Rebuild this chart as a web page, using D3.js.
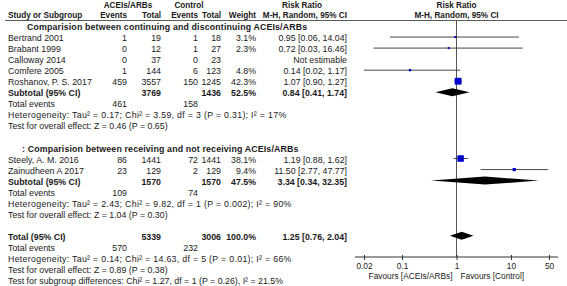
<!DOCTYPE html>
<html lang="en">
<head>
<meta charset="utf-8">
<title>Forest plot</title>
<script src="https://cdn.jsdelivr.net/npm/d3@7"></script>
<style>
  body { margin: 0; background: #fff; }
  svg text { font-family: "Liberation Sans", Arial, sans-serif; font-size: 8.8px; fill: #1a1a1a; }
  .b { font-weight: bold; }
  .hd { font-size: 8.2px; }
  .het { letter-spacing: 0.3px; }
  .grp { letter-spacing: 0.15px; }
</style>
</head>
<body>
<script>
// ---- data ----
var studies1 = ["Bertrand 2001", "Brabant 1999", "Calloway 2014", "Comfere 2005", "Roshanov, P. S. 2017"];
var aceEv1 = [1, 0, 0, 1, 459];
var aceN1 = [19, 12, 37, 144, 3557];
var ctlEv1 = [1, 1, 0, 6, 150];
var ctlN1 = [18, 27, 23, 123, 1245];
var weight1 = [3.1, 2.3, null, 4.8, 42.3];
var rr1 = [0.95, 0.72, null, 0.14, 1.07];
var lo1 = [0.06, 0.03, null, 0.02, 0.90];
var hi1 = [14.04, 16.46, null, 1.17, 1.27];

var studies2 = ["Steely, A. M. 2016", "Zainudheen A 2017"];
var aceEv2 = [86, 23];
var aceN2 = [1441, 129];
var ctlEv2 = [72, 2];
var ctlN2 = [1441, 129];
var weight2 = [38.1, 9.4];
var rr2 = [1.19, 11.50];
var lo2 = [0.88, 2.77];
var hi2 = [1.62, 47.77];

var subgroups = ["Comparision between continuing and discontinuing ACEIs/ARBs",
                 ": Comparision between receiving and not receiving ACEIs/ARBs"];
var subN = [[3769, 1436], [1570, 1570]];
var subWeight = [52.5, 47.5];
var subRR = [[0.84, 0.41, 1.74], [3.34, 0.34, 32.35]];
var subEvents = [[461, 158], [109, 74]];
var subHet = ["Heterogeneity: Tau\u00b2 = 0.17; Chi\u00b2 = 3.59, df = 3 (P = 0.31); I\u00b2 = 17%",
              "Heterogeneity: Tau\u00b2 = 2.43; Chi\u00b2 = 9.82, df = 1 (P = 0.002); I\u00b2 = 90%"];
var subTest = ["Test for overall effect: Z = 0.46 (P = 0.65)",
               "Test for overall effect: Z = 1.04 (P = 0.30)"];

var totalN = [5339, 3006];
var totalRR = [1.25, 0.76, 2.04];
var totalEvents = [570, 232];
var totalHet = "Heterogeneity: Tau\u00b2 = 0.14; Chi\u00b2 = 14.63, df = 5 (P = 0.01); I\u00b2 = 66%";
var totalNotes = ["Test for overall effect: Z = 0.89 (P = 0.38)",
                  "Test for subgroup differences: Chi\u00b2 = 1.27, df = 1 (P = 0.26), I\u00b2 = 21.5%"];

var tickValues = [0.02, 0.1, 1, 10, 50];
var favours = ["Favours [ACEIs/ARBs]", "Favours [Control]"];

// ---- layout ----
var w = 567, h = 286;
var col = { name: 8, aceEv: 127, aceN: 161, ctlEv: 198, ctlN: 221, weight: 256, rr: 347 };
var axisY = 257;

var x = d3.scaleLog().domain([0.02, 50]).range([364, 549]);
var y = d3.scaleLinear().domain([0, 23]).range([27, 281]);

function fmt(v) { return v.toFixed(2); }
function ci(r) { return fmt(r[0]) + " [" + fmt(r[1]) + ", " + fmt(r[2]) + "]"; }

// build row list; cell = [x, text, anchor, class]
var rows = [];
var studyMarks = [];
var diamonds = [];
var idx = 0;
[[studies1, aceEv1, aceN1, ctlEv1, ctlN1, weight1, rr1, lo1, hi1],
 [studies2, aceEv2, aceN2, ctlEv2, ctlN2, weight2, rr2, lo2, hi2]].forEach(function (g, gi) {
  rows.push({ i: idx++, cells: [[gi === 0 ? 27 : 22, subgroups[gi], "start", "b grp"]] });
  g[0].forEach(function (name, k) {
    var r = g[6][k];
    rows.push({ i: idx, cells: [
      [col.name, name, "start"],
      [col.aceEv, g[1][k], "end"], [col.aceN, g[2][k], "end"],
      [col.ctlEv, g[3][k], "end"], [col.ctlN, g[4][k], "end"],
      [col.weight, g[5][k] == null ? "" : g[5][k].toFixed(1) + "%", "end"],
      [col.rr, r == null ? "Not estimable" : ci([r, g[7][k], g[8][k]]), "end"]
    ]});
    if (r != null) studyMarks.push({ i: idx, rr: r, lo: g[7][k], hi: g[8][k], w: g[5][k] });
    idx++;
  });
  rows.push({ i: idx, cells: [
    [col.name, "Subtotal (95% CI)", "start", "b"],
    [col.aceN, subN[gi][0], "end", "b"], [col.ctlN, subN[gi][1], "end", "b"],
    [col.weight, subWeight[gi].toFixed(1) + "%", "end", "b"],
    [col.rr, ci(subRR[gi]), "end", "b"]
  ]});
  diamonds.push({ i: idx, r: subRR[gi] });
  idx++;
  rows.push({ i: idx++, cells: [[col.name, "Total events", "start"],
    [col.aceEv, subEvents[gi][0], "end"], [col.ctlEv, subEvents[gi][1], "end"]] });
  rows.push({ i: idx++, cells: [[col.name, subHet[gi], "start", "het"]] });
  rows.push({ i: idx++, cells: [[col.name, subTest[gi], "start"]] });
  idx++; // blank line
});
rows.push({ i: idx, cells: [
  [col.name, "Total (95% CI)", "start", "b"],
  [col.aceN, totalN[0], "end", "b"], [col.ctlN, totalN[1], "end", "b"],
  [col.weight, "100.0%", "end", "b"], [col.rr, ci(totalRR), "end", "b"]
]});
diamonds.push({ i: idx, r: totalRR });
idx++;
rows.push({ i: idx++, cells: [[col.name, "Total events", "start"],
  [col.aceEv, totalEvents[0], "end"], [col.ctlEv, totalEvents[1], "end"]] });
rows.push({ i: idx++, cells: [[col.name, totalHet, "start", "het"]] });
totalNotes.forEach(function (t) { rows.push({ i: idx++, cells: [[col.name, t, "start"]] }); });

// ---- svg ----
var svg = d3.select("body").append("svg").attr("width", w).attr("height", h);

// headers
var headers = [
  [128, 5, "ACEIs/ARBs", "middle"], [189, 5, "Control", "middle"],
  [302, 5, "Risk Ratio", "middle"], [x(1), 5, "Risk Ratio", "middle"],
  [col.name, 15, "Study or Subgroup", "start"], [col.aceEv, 15, "Events", "end"],
  [col.aceN, 15, "Total", "end"], [col.ctlEv, 15, "Events", "end"],
  [col.ctlN, 15, "Total", "end"], [col.weight, 15, "Weight", "end"],
  [col.rr, 15, "M-H, Random, 95% CI", "end"], [x(1), 15, "M-H, Random, 95% CI", "middle"]
];
svg.selectAll("text.hd").data(headers).enter().append("text")
  .attr("class", "hd b")
  .attr("x", function (d) { return d[0]; })
  .attr("y", function (d) { return d[1]; })
  .attr("dy", "0.35em")
  .attr("text-anchor", function (d) { return d[3]; })
  .text(function (d) { return d[2]; });

svg.append("line")
  .attr("x1", 5).attr("x2", w).attr("y1", 20.5).attr("y2", 20.5)
  .attr("stroke", "#333").attr("stroke-width", 0.8);

// table rows
rows.forEach(function (r) {
  svg.selectAll(null).data(r.cells).enter().append("text")
    .attr("class", function (d) { return d[3] || null; })
    .attr("x", function (d) { return d[0]; })
    .attr("y", y(r.i))
    .attr("dy", "0.35em")
    .attr("text-anchor", function (d) { return d[2]; })
    .text(function (d) { return d[1]; });
});

// line of no effect
svg.append("line")
  .attr("x1", x(1)).attr("x2", x(1)).attr("y1", 20.5).attr("y2", axisY)
  .attr("stroke", "#555").attr("stroke-width", 1);

// CIs and squares
svg.selectAll("line.ci").data(studyMarks).enter().append("line")
  .attr("class", "ci")
  .attr("x1", function (d) { return x(d.lo); })
  .attr("x2", function (d) { return x(d.hi); })
  .attr("y1", function (d) { return y(d.i) - 1; })
  .attr("y2", function (d) { return y(d.i) - 1; })
  .attr("stroke", "#333").attr("stroke-width", 0.9);

function side(d) { return Math.max(2, Math.sqrt(d.w) * 1.05); }
svg.selectAll("rect.sq").data(studyMarks).enter().append("rect")
  .attr("class", "sq")
  .attr("width", side)
  .attr("height", side)
  .attr("x", function (d) { return x(d.rr) - side(d) / 2; })
  .attr("y", function (d) { return y(d.i) - 1 - side(d) / 2; })
  .attr("fill", "#0000cc");

// diamonds
svg.selectAll("path.dia").data(diamonds).enter().append("path")
  .attr("class", "dia")
  .attr("d", function (d) {
    var cy = y(d.i) - 1;
    return "M" + x(d.r[1]) + "," + cy + "L" + x(d.r[0]) + "," + (cy - 4) +
           "L" + x(d.r[2]) + "," + cy + "L" + x(d.r[0]) + "," + (cy + 4) + "Z";
  })
  .attr("fill", "#000");

// axis
var axis = svg.append("g")
  .attr("transform", "translate(0," + axisY + ")")
  .call(d3.axisBottom(x).tickValues(tickValues).tickFormat(d3.format("")).tickSize(3));
axis.select(".domain").remove();
axis.append("line")
  .attr("x1", x(0.02) - 9).attr("x2", x(50) + 9)
  .attr("stroke", "#333").attr("stroke-width", 1);
axis.selectAll(".tick line").attr("y1", -2).attr("stroke", "#333");
axis.selectAll(".tick text")
  .style("font-family", "\"Liberation Sans\", Arial, sans-serif")
  .style("font-size", "8.3px").attr("fill", "#1a1a1a");

svg.append("text")
  .style("font-size", "8.3px")
  .attr("x", x(1) - 4).attr("y", 276).attr("dy", "0.35em")
  .attr("text-anchor", "end").text(favours[0]);
svg.append("text")
  .style("font-size", "8.3px")
  .attr("x", x(1) + 4).attr("y", 276).attr("dy", "0.35em")
  .attr("text-anchor", "start").text(favours[1]);
</script>
</body>
</html>
